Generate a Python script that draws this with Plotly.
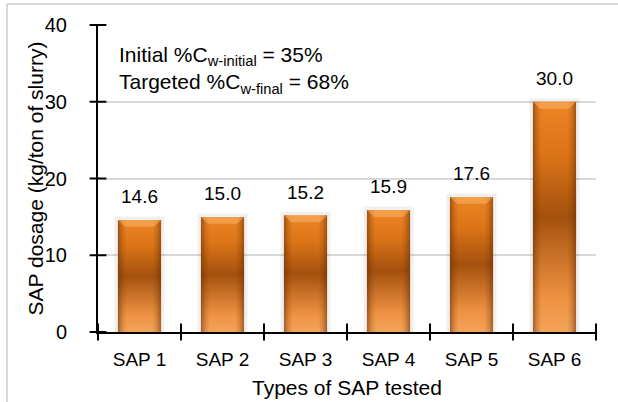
import plotly.graph_objects as go

# Data
sap_types = ["SAP 1", "SAP 2", "SAP 3", "SAP 4", "SAP 5", "SAP 6"]
sap_dosage = [14.6, 15.0, 15.2, 15.9, 17.6, 30.0]
y_ticks = [0, 10, 20, 30, 40]

FONT = "Liberation Sans, Arial, sans-serif"
BAR_W = 0.52

positions = list(range(len(sap_types)))
boundaries = [p - 0.5 for p in positions] + [positions[-1] + 0.5]
x_range = [-0.5, len(sap_types) - 0.5]
y_range = [0, 40]

fig = go.Figure()

# soft glow behind each bar
for p, v in zip(positions, sap_dosage):
    xl, xr = p - BAR_W / 2, p + BAR_W / 2
    fig.add_trace(go.Scatter(
        x=[xl, xr, xr, xl, xl], y=[0, 0, v, v, 0],
        mode="lines", line=dict(color="rgba(0,0,0,0.06)", width=7),
        hoverinfo="skip", showlegend=False))

# bars: vertical orange gradient with darker side bevels and a lit top face
for p, v in zip(positions, sap_dosage):
    xl, xr = p - BAR_W / 2, p + BAR_W / 2
    fig.add_trace(go.Scatter(
        x=[xl, xr, xr, xl, xl], y=[0, 0, v, v, 0],
        fill="toself", mode="lines", line=dict(width=0),
        fillgradient=dict(type="vertical", colorscale=[
            [0.0, "#F4A35A"], [0.15, "#EE9242"], [0.5, "#A4510E"],
            [0.78, "#DD7518"], [1.0, "#EC8526"]]),
        hoverinfo="skip", showlegend=False))
    fig.add_trace(go.Scatter(
        x=[xl, xr, xr, xl, xl], y=[0, 0, v, v, 0],
        fill="toself", mode="lines", line=dict(width=0),
        fillgradient=dict(type="horizontal", colorscale=[
            [0.0, "rgba(100,45,0,0.55)"], [0.1, "rgba(100,45,0,0.2)"],
            [0.2, "rgba(100,45,0,0)"], [0.8, "rgba(100,45,0,0)"],
            [0.9, "rgba(100,45,0,0.2)"], [1.0, "rgba(100,45,0,0.55)"]]),
        hoverinfo="skip", showlegend=False))
    d, h = 0.085, 0.9
    fig.add_trace(go.Scatter(
        x=[xl, xr, xr - d, xl + d, xl], y=[v, v, v - h, v - h, v],
        fill="toself", mode="lines", line=dict(width=0),
        fillcolor="rgba(255,190,120,0.45)",
        hoverinfo="skip", showlegend=False))

# tick marks crossing the axis lines
fig.add_trace(go.Scatter(
    x=[x_range[0]] * len(y_ticks), y=y_ticks, mode="markers",
    marker=dict(symbol="line-ew", size=12, color="#000",
                line=dict(color="#000", width=2)),
    cliponaxis=False, hoverinfo="skip", showlegend=False))
fig.add_trace(go.Scatter(
    x=boundaries, y=[y_range[0]] * len(boundaries), mode="markers",
    marker=dict(symbol="line-ns", size=12, color="#000",
                line=dict(color="#000", width=2)),
    cliponaxis=False, hoverinfo="skip", showlegend=False))

# value labels above the bars
for p, v in zip(positions, sap_dosage):
    fig.add_annotation(x=p, y=v, text=f"{v:.1f}", showarrow=False,
                       xref="x", yref="y", yanchor="middle", yshift=23,
                       font=dict(family=FONT, size=19, color="#000"))

# process conditions note
fig.add_annotation(x=0.038, y=0.855, xref="paper", yref="paper",
                   xanchor="left", yanchor="middle", align="left",
                   showarrow=False,
                   text=("Initial %C<sub>w-initial</sub> = 35%<br>"
                         "Targeted %C<sub>w-final</sub> = 68%"),
                   font=dict(family=FONT, size=21, color="#000"))

# axis titles
fig.add_annotation(x=0.5, y=-0.1824, xref="paper", yref="paper",
                   xanchor="center", yanchor="middle", showarrow=False,
                   text="Types of SAP tested",
                   font=dict(family=FONT, size=21, color="#000"))
fig.add_annotation(x=-0.1245, y=0.5, xref="paper", yref="paper",
                   xanchor="center", yanchor="middle", showarrow=False,
                   textangle=-90, text="SAP dosage (kg/ton of slurry)",
                   font=dict(family=FONT, size=21, color="#000"))

# outer frame of the chart area
fig.add_shape(type="line", xref="paper", yref="paper",
              x0=-0.1827, x1=1.05, y0=1.0684, y1=1.0684,
              line=dict(color="#D9D9D9", width=2))
fig.add_shape(type="line", xref="paper", yref="paper",
              x0=-0.1827, x1=-0.1827, y0=-0.3, y1=1.0684,
              line=dict(color="#D9D9D9", width=2))

fig.update_layout(
    width=618, height=402,
    margin=dict(l=98, r=22, t=25, b=70),
    paper_bgcolor="white", plot_bgcolor="white",
    font=dict(family=FONT, size=19, color="#000"),
    xaxis=dict(
        range=x_range, tickmode="array", tickvals=positions, ticktext=sap_types,
        ticks="", ticklabelstandoff=9, automargin=False,
        tickfont=dict(family=FONT, size=19),
        showline=True, linecolor="#000", linewidth=2, showgrid=False,
        zeroline=False,
    ),
    yaxis=dict(
        range=y_range, tickmode="array", tickvals=y_ticks,
        ticks="", ticklabelstandoff=25, automargin=False,
        tickfont=dict(family=FONT, size=20),
        showline=True, linecolor="#000", linewidth=2,
        showgrid=True, gridcolor="#D9D9D9", gridwidth=1.5, zeroline=False,
    ),
    showlegend=False,
)

fig.write_html("out.html")
